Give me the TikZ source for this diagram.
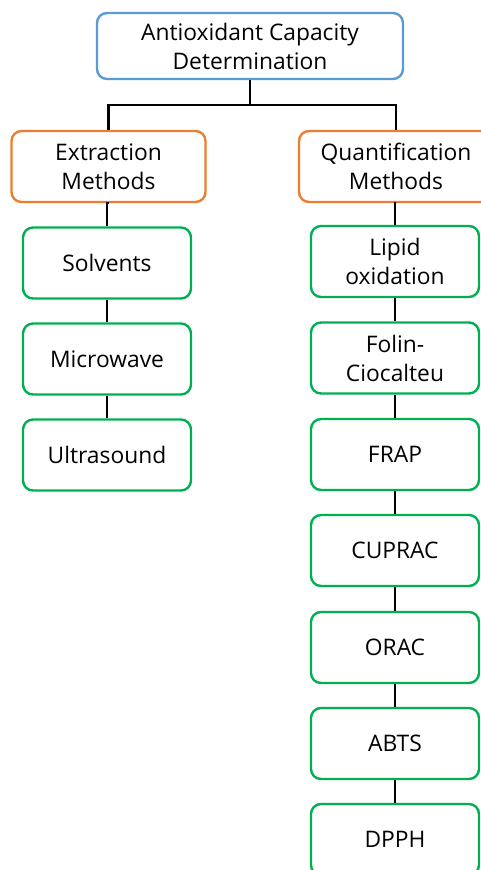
\documentclass[tikz,border=0pt]{standalone}
\usepackage{fontspec}
\setmainfont{Open Sans}
\definecolor{topblue}{RGB}{91,155,213}
\definecolor{catorange}{RGB}{237,125,49}
\definecolor{itemgreen}{RGB}{0,176,80}
\begin{document}
\begin{tikzpicture}[x=1pt,y=1pt,
  box/.style={draw,line width=2.4pt,rounded corners=10pt,fill=white,align=center,
    font=\fontsize{22.8}{29}\selectfont,inner sep=0pt},
  topbox/.style={box,draw=topblue,minimum width=306pt,minimum height=66pt},
  catbox/.style={box,draw=catorange,minimum width=194pt,minimum height=71pt},
  itembox/.style={box,draw=itemgreen,minimum width=168pt,minimum height=71pt},
  link/.style={line width=2.4pt,black}]
\useasboundingbox (0,0) rectangle (481,-870);
\clip (0,0) rectangle (481,-870);
% header
\node[topbox] (top) at (250,-46) {Antioxidant Capacity\\Determination};
\coordinate (bar) at (250,-105);
% categories
\node[catbox] (ext) at (108.5,-166.5) {Extraction\\Methods};
\node[catbox] (qua) at (396,-166.5) {Quantification\\Methods};
% extraction methods
\node[itembox] (sol) at (107,-263) {Solvents};
\node[itembox] (mic) at (107,-359) {Microwave};
\node[itembox] (ult) at (107,-455) {Ultrasound};
% quantification methods
\node[itembox] (lip) at (395,-261.5) {Lipid\\oxidation};
\node[itembox] (fol) at (395,-358) {Folin-\\Ciocalteu};
\node[itembox] (fra) at (395,-454.5) {FRAP};
\node[itembox] (cup) at (395,-550.5) {CUPRAC};
\node[itembox] (ora) at (395,-647.5) {ORAC};
\node[itembox] (abt) at (395,-743.5) {ABTS};
\node[itembox] (dpp) at (395,-839.5) {DPPH};
% connectors
\draw[link] (top.south) -- (bar);
\draw[link] (ext.north) -- (ext.north |- bar) -- (qua.north |- bar) -- (qua.north);
\draw[link] (ext.south) -- (ext.south -| sol.north) -- (sol.north);
\draw[link] (sol.south) -- (mic.north);
\draw[link] (mic.south) -- (ult.north);
\draw[link] (qua.south) -- (qua.south -| lip.north) -- (lip.north);
\draw[link] (lip.south) -- (fol.north);
\draw[link] (fol.south) -- (fra.north);
\draw[link] (fra.south) -- (cup.north);
\draw[link] (cup.south) -- (ora.north);
\draw[link] (ora.south) -- (abt.north);
\draw[link] (abt.south) -- (dpp.north);
\end{tikzpicture}
\end{document}
